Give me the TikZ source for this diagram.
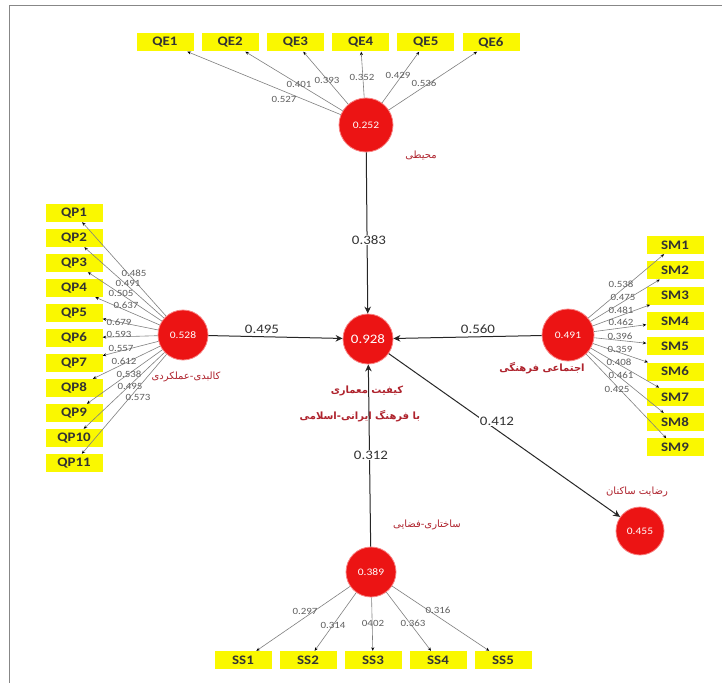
\documentclass[tikz,border=0pt]{standalone}
\usepackage{fontspec}
\setmainfont{Carlito}[FakeStretch=1.15]
\newfontfamily\fa[Script=Arabic]{DejaVu Sans}
\TeXXeTstate=1
\usetikzlibrary{arrows.meta}
\definecolor{lvred}{RGB}{236,20,20}
\definecolor{lvring}{RGB}{248,130,130}
\definecolor{boxy}{RGB}{250,248,0}
\definecolor{fared}{RGB}{175,35,45}
\definecolor{ldgray}{RGB}{95,95,95}
\definecolor{framegray}{RGB}{135,135,135}
\begin{document}
\begin{tikzpicture}[x=1pt,y=-1pt,
  lv/.style={circle,fill=lvred,draw=lvring,line width=0.8pt,minimum size=50pt,inner sep=0pt,text=white,font=\fontsize{10}{11}\selectfont},
  mv/.style={rectangle,fill=boxy,minimum width=57pt,minimum height=18pt,inner sep=0pt,text=black!80,font=\fontsize{13}{14}\selectfont\bfseries},
  ind/.style={draw=black!50,line width=0.6pt,-{Stealth[length=3.5pt,width=3pt,color=black]}},
  pth/.style={draw=black!85,line width=1pt,-{Stealth[length=7pt,width=6.5pt]}},
  ld/.style={font=\fontsize{9.5}{10}\selectfont,text=ldgray,inner sep=0pt},
  pc/.style={font=\fontsize{13}{14}\selectfont,text=black!80,inner sep=1pt},
  falab/.style={font=\fa\fontsize{10}{11}\selectfont,text=fared,inner sep=0pt},
  falabb/.style={font=\fa\fontsize{10}{12}\selectfont\bfseries,text=fared,inner sep=0pt}]
\useasboundingbox (0,0) rectangle (722,682);
\fill[white] (0,0) rectangle (722,682);
\draw[framegray,line width=1.6pt] (9.5,700) -- (9.5,5.5) -- (740,5.5);

% latent variables
\node[lv,minimum size=54pt] (c252) at (366,125) {0.252};
\node[lv,font=\fontsize{13}{14}\selectfont] (c928) at (368,339) {0.928};
\node[lv] (c528) at (183,335) {0.528};
\node[lv,minimum size=52pt] (c491) at (568,335) {0.491};
\node[lv] (c389) at (371,572) {0.389};
\node[lv,minimum size=48pt] (c455) at (640,531) {0.455};

% Persian labels
\node[falab] (t252) at (421,155) {\beginR محیطی\endR};
\node[falab] (t528) at (186,377) {\beginR کالبدی-عملکردی\endR};
\node[falabb] (t491) at (542,368) {\beginR اجتماعی فرهنگی\endR};
\node[falabb] (t928a) at (367,391) {\beginR کیفیت معماری\endR};
\node[falabb] (t928b) at (360,416) {\beginR با فرهنگ ایرانی-اسلامی\endR};
\node[falab] (t389) at (427,525) {\beginR ساختاری-فضایی\endR};
\node[falab] (t455) at (637,492) {\beginR رضایت ساکنان\endR};

% indicators
\foreach \i [evaluate=\i as \xx using 165+65.2*(\i-1)] in {1,...,6}
  \node[mv] (qe\i) at (\xx,42.5) {QE\i};
\foreach \i [evaluate=\i as \yy using 213+25*(\i-1)] in {1,...,11}
  \node[mv] (qp\i) at (74,\yy) {QP\i};
\foreach \i [evaluate=\i as \yy using 245+25.3*(\i-1)] in {1,...,9}
  \node[mv] (sm\i) at (675,\yy) {SM\i};
\foreach \i [evaluate=\i as \xx using 243+65*(\i-1)] in {1,...,5}
  \node[mv] (ss\i) at (\xx,660) {SS\i};

% outer loadings
\foreach \i/\v/\lx/\ly in {1/0.527/284/99,2/0.401/299/84,3/0.393/327/80,4/0.352/362/77,5/0.429/398/75,6/0.536/424/83}
  \draw[ind] (c252) -- (qe\i) node[ld] (lqe\i) at (\lx,\ly) {\v};
\foreach \i/\v/\lx/\ly in {1/0.485/134/273,2/0.491/128/283,3/0.505/121/293,4/0.637/126/305,5/0.679/119/322,6/0.593/119/334,7/0.557/121/348,8/0.612/124/361,9/0.538/129/374,10/0.495/130/386,11/0.573/138/397}
  \draw[ind] (c528) -- (qp\i) node[ld] (lqp\i) at (\lx,\ly) {\v};
\foreach \i/\v/\lx/\ly in {1/0.538/621/284,2/0.475/623/297,3/0.481/621/310,4/0.462/621/322,5/0.396/620/336,6/0.359/620/349,7/0.408/619/362,8/0.461/621/375,9/0.425/617/389}
  \draw[ind] (c491) -- (sm\i) node[ld] (lsm\i) at (\lx,\ly) {\v};
\foreach \i/\v/\lx/\ly in {1/0.297/305/611,2/0.314/333/625,3/0402/373/623,4/0.363/413/623,5/0.316/438/610}
  \draw[ind] (c389) -- (ss\i) node[ld] (lss\i) at (\lx,\ly) {\v};

% path coefficients
\draw[pth] (c252) -- (c928) node[pc,fill=white] (p1) at (369,240) {0.383};
\draw[pth] (c528) -- (c928) node[pc,anchor=south] (p2) at (262,335) {0.495};
\draw[pth] (c491) -- (c928) node[pc,anchor=south] (p3) at (478,335) {0.560};
\draw[pth] (c389) -- (c928) node[pc,fill=white] (p4) at (371,455) {0.312};
\draw[pth] (c928) -- (c455) node[pc,fill=white] (p5) at (497,421) {0.412};
\end{tikzpicture}
\end{document}
